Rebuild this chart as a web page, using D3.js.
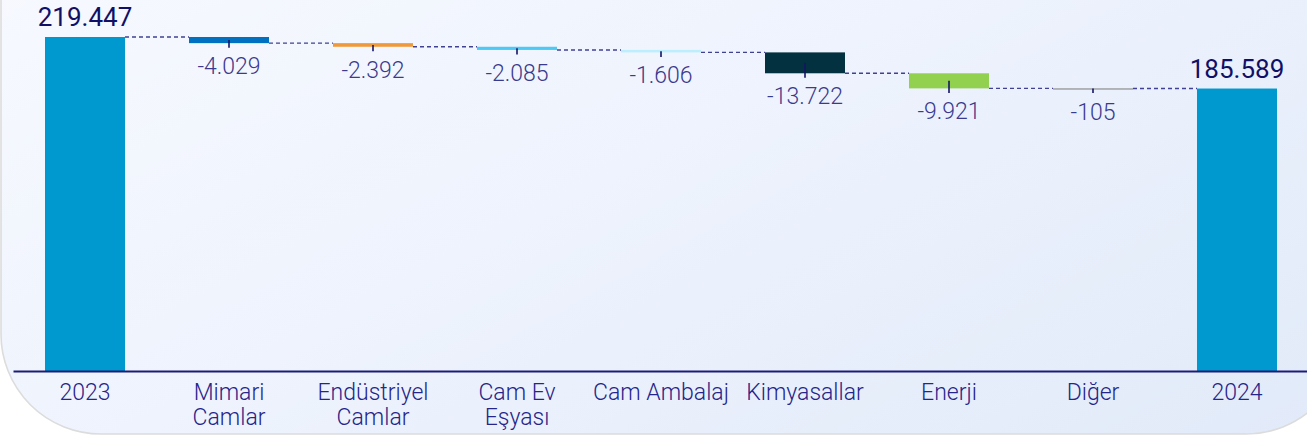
<!DOCTYPE html>
<html>
<head>
<meta charset="utf-8">
<script src="https://cdn.jsdelivr.net/npm/d3@7"></script>
<style>
  html, body { margin: 0; padding: 0; background: #ffffff; }
  svg { display: block; }
  text { font-family: Roboto, "Noto Sans", sans-serif; }
</style>
</head>
<body>
<svg id="chart" width="1307" height="437"></svg>
<script>
// ---- data ----
const categories = ["2023", "Mimari Camlar", "Endüstriyel Camlar", "Cam Ev Eşyası", "Cam Ambalaj", "Kimyasallar", "Enerji", "Diğer", "2024"];
const tickLabels = [["2023"], ["Mimari", "Camlar"], ["Endüstriyel", "Camlar"], ["Cam Ev", "Eşyası"], ["Cam Ambalaj"], ["Kimyasallar"], ["Enerji"], ["Diğer"], ["2024"]];
const values = [219447, -4029, -2392, -2085, -1606, -13722, -9921, -105, 185589];
const isTotal = [true, false, false, false, false, false, false, false, true];
const barColors = ["#0099cf", "#0070c0", "#f0993a", "#4dc9f6", "#bdeefb", "#03313f", "#92d050", "#8c8c8c", "#0099cf"];

// ---- layout ----
const svg = d3.select("#chart");
const baseY = 371, topY = 37;

const locale = d3.formatLocale({decimal: ",", thousands: ".", grouping: [3], currency: ["", ""], minus: "-"});
const fmt = locale.format(",d");

// background panel
const defs = svg.append("defs");
const grad = defs.append("linearGradient").attr("id", "bg")
  .attr("x1", "0").attr("y1", "0").attr("x2", "1").attr("y2", "1");
grad.append("stop").attr("offset", "0").attr("stop-color", "#fbfcff");
grad.append("stop").attr("offset", "0.55").attr("stop-color", "#eef3fd");
grad.append("stop").attr("offset", "1").attr("stop-color", "#e1eaf9");
svg.append("rect")
  .attr("x", 1).attr("y", -300).attr("width", 1345).attr("height", 734)
  .attr("rx", 100).attr("ry", 100)
  .attr("fill", "url(#bg)").attr("stroke", "#dcdcdc").attr("stroke-width", 1.6);

// scales
const x = d3.scaleBand().domain(categories).range([13, 1309])
  .paddingInner(64 / 144).paddingOuter(32 / 144);
const y = d3.scaleLinear().domain([0, 219447]).range([baseY, topY]);

// waterfall computation
let running = 0;
const bars = categories.map((c, i) => {
  let start, end;
  if (isTotal[i]) { start = 0; end = values[i]; running = values[i]; }
  else { start = running; end = running + values[i]; running = end; }
  return {cat: c, value: values[i], start, end, total: isTotal[i], color: barColors[i]};
});

// connectors
const conn = svg.append("g");
for (let i = 0; i < bars.length - 1; i++) {
  const lvl = bars[i].end;
  conn.append("line")
    .attr("x1", x(bars[i].cat) + x.bandwidth())
    .attr("x2", x(bars[i + 1].cat))
    .attr("y1", y(lvl)).attr("y2", y(lvl))
    .attr("stroke", "#2e2e88").attr("stroke-opacity", 0.9)
    .attr("stroke-width", 1.4).attr("stroke-dasharray", "4,3");
}

// bars
svg.append("g").selectAll("rect").data(bars).join("rect")
  .attr("x", d => x(d.cat))
  .attr("width", x.bandwidth())
  .attr("y", d => y(Math.max(d.start, d.end)))
  .attr("height", d => Math.max(1.2, Math.abs(y(d.start) - y(d.end))))
  .attr("fill", d => d.color);

// tick markers on change bars
const deltas = bars.filter(d => !d.total);
svg.append("g").selectAll("line").data(deltas).join("line")
  .attr("x1", d => x(d.cat) + x.bandwidth() / 2)
  .attr("x2", d => x(d.cat) + x.bandwidth() / 2)
  .attr("y1", d => (y(d.start) + y(d.end)) / 2)
  .attr("y2", d => Math.max(y(d.start), y(d.end)) + 4.5)
  .attr("stroke", "#141466").attr("stroke-width", 1.6);

// value labels for changes
svg.append("g").selectAll("text").data(deltas).join("text")
  .attr("x", d => x(d.cat) + x.bandwidth() / 2)
  .attr("y", d => Math.max(y(d.start), y(d.end)) + 31)
  .attr("text-anchor", "middle")
  .attr("font-size", 23).attr("font-weight", 300)
  .attr("fill", "#3a3a8e")
  .text(d => fmt(d.value));

// total labels
svg.append("g").selectAll("text").data(bars.filter(d => d.total)).join("text")
  .attr("x", d => x(d.cat) + x.bandwidth() / 2)
  .attr("y", d => y(d.end) - 11)
  .attr("text-anchor", "middle")
  .attr("font-size", 26).attr("font-weight", 400)
  .attr("fill", "#101066")
  .text(d => fmt(d.value));

// x axis
const axis = svg.append("g").attr("transform", `translate(0,${baseY})`)
  .call(d3.axisBottom(x).tickSize(0).tickPadding(0).tickFormat(() => ""));
axis.select(".domain").attr("stroke", "#1c1c78").attr("stroke-width", 2);
axis.selectAll(".tick text").each(function(d) {
  const t = d3.select(this);
  t.text(null).attr("y", 0).attr("dy", null)
    .attr("font-size", 23).attr("font-weight", 300)
    .attr("fill", "#25258a").attr("font-family", "Roboto, 'Noto Sans', sans-serif");
  const lines = tickLabels[categories.indexOf(d)];
  lines.forEach((ln, k) => {
    t.append("tspan").attr("x", 0).attr("y", 29 + k * 25).text(ln);
  });
});
</script>
</body>
</html>
